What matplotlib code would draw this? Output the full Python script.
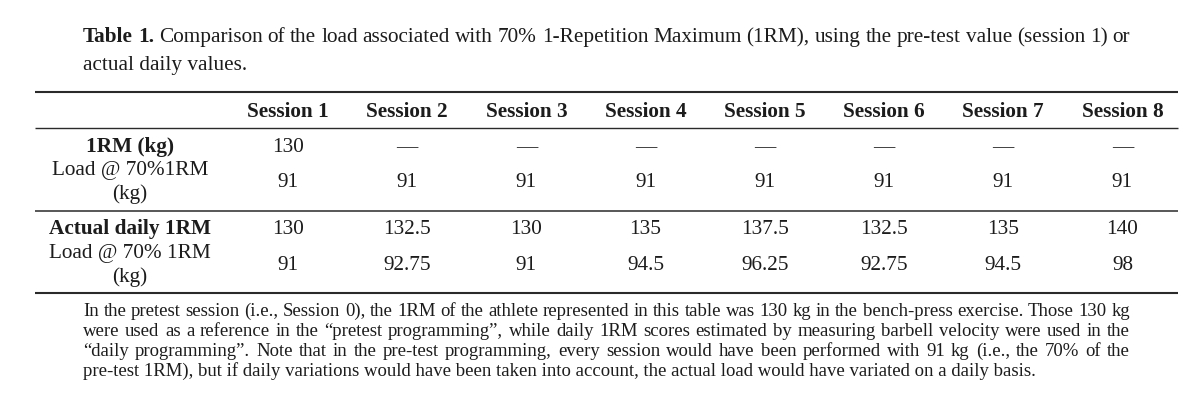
import matplotlib.pyplot as plt

# canvas in pixels, text in a book serif
W, H = 1200, 406
SERIF = 'Liberation Serif'
INK = '#1c1c1c'

# table data
sessions = ['Session 1', 'Session 2', 'Session 3', 'Session 4',
            'Session 5', 'Session 6', 'Session 7', 'Session 8']
pretest_1rm = [130, None, None, None, None, None, None, None]
pretest_load = [91, 91, 91, 91, 91, 91, 91, 91]
daily_1rm = [130, 132.5, 130, 135, 137.5, 132.5, 135, 140]
daily_load = [91, 92.75, 91, 94.5, 96.25, 92.75, 94.5, 98]

title_lines = [
    "Table 1. Comparison of the load associated with 70% 1-Repetition Maximum (1RM), "
    "using the pre-test value (session 1) or",
    "actual daily values.",
]
note_lines = [
    "In the pretest session (i.e., Session 0), the 1RM of the athlete represented in this "
    "table was 130 kg in the bench-press exercise. Those 130 kg",
    "were used as a reference in the \u201cpretest programming\u201d, while daily 1RM scores "
    "estimated by measuring barbell velocity were used in the",
    "\u201cdaily programming\u201d. Note that in the pre-test programming, every session would "
    "have been performed with 91 kg (i.e., the 70% of the",
    "pre-test 1RM), but if daily variations would have been taken into account, the actual "
    "load would have variated on a daily basis.",
]

fig = plt.figure(figsize=(12, 4.06), dpi=100)
ax = fig.add_axes([0, 0, 1, 1])
ax.set_xlim(0, W)
ax.set_ylim(H, 0)
ax.axis('off')
rend = fig.canvas.get_renderer()


def text_width(s, size, weight='normal'):
    t = ax.text(0, 0, s, fontsize=size, family=SERIF, fontweight=weight)
    w = t.get_window_extent(rend).width
    t.remove()
    return w


def advance(s, size, weight='normal'):
    # box width minus the fixed overhead each text box carries
    extra = 2 * text_width('x', size, weight) - text_width('xx', size, weight)
    return text_width(s, size, weight) - extra


def put(x, y, s, size, weight='normal', ha='center'):
    return ax.text(x, y, s, fontsize=size, family=SERIF, fontweight=weight,
                   ha=ha, va='baseline', color=INK)


def justify_line(line, y, x0, x1, size, bold_words=0):
    words = line.split(' ')
    weights = ['bold' if i < bold_words else 'normal' for i in range(len(words))]
    widths = [advance(w, size, wt) for w, wt in zip(words, weights)]
    gap = (x1 - x0 - sum(widths)) / (len(words) - 1)
    x = x0
    for w, wt, wd in zip(words, weights, widths):
        put(x, y, w, size, wt, ha='left')
        x += wd + gap


left, right = 83, 1130

# caption above the table
title_size = 12 * (right - left) / text_width(title_lines[0], 12)
justify_line(title_lines[0], 42, left, right, title_size, bold_words=2)
put(left, 70, title_lines[1], title_size, ha='left')

# rules
x_a, x_b = 35, 1178
for y, lw in [(93, 1.5), (129, 1.0), (212, 1.1), (294, 1.5)]:
    ax.plot([x_a, x_b], [y, y], color='#2a2a2a', lw=lw, solid_capstyle='butt')

# table body
cell_size = 12 * 82 / text_width('Session 1', 12, 'bold')
label_x = 130
col_x = [288 + 119.2 * i for i in range(len(sessions))]


def fmt(v):
    return '\u2014' if v is None else f'{v:g}'


for x, s in zip(col_x, sessions):
    put(x, 117, s, cell_size, 'bold')

put(label_x, 152, '1RM (kg)', cell_size, 'bold')
put(label_x, 175, 'Load @ 70%1RM', cell_size)
put(label_x, 199, '(kg)', cell_size)
put(label_x, 234, 'Actual daily 1RM', cell_size, 'bold')
put(label_x, 258, 'Load @ 70% 1RM', cell_size)
put(label_x, 282, '(kg)', cell_size)

for x, a, b, c, d in zip(col_x, pretest_1rm, pretest_load, daily_1rm, daily_load):
    put(x, 152, fmt(a), cell_size)
    put(x, 187, fmt(b), cell_size)
    put(x, 234, fmt(c), cell_size)
    put(x, 270, fmt(d), cell_size)

# footnote: justified, last line left ragged
note_size = min(12 * (right - left) / text_width(l, 12) for l in note_lines[:3])
for i, line in enumerate(note_lines[:3]):
    justify_line(line, 316 + 20 * i, left, right, note_size)
put(left, 376, note_lines[3], note_size, ha='left')

fig.savefig('out.png', dpi=100)
plt.close(fig)
